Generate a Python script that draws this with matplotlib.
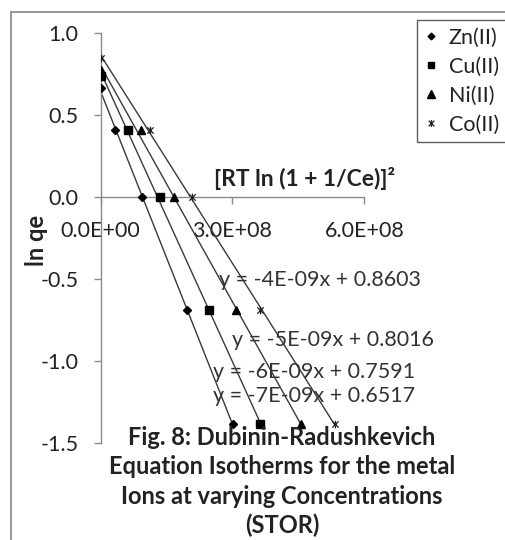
import matplotlib
matplotlib.use("Agg")
import matplotlib.pyplot as plt
import numpy as np
from matplotlib.path import Path
from matplotlib.patches import Rectangle
from matplotlib.lines import Line2D

plt.rcParams['font.family'] = ['Lato', 'DejaVu Sans']

# Dubinin-Radushkevich data: x = [RT ln(1 + 1/Ce)]^2, y = ln qe
series_names = ["Zn(II)", "Cu(II)", "Ni(II)", "Co(II)"]
zn_x = [0.0, 0.33e8, 0.955e8, 1.965e8, 3.01e8]
zn_y = [0.660, 0.405, 0.0, -0.693, -1.386]
cu_x = [0.0, 0.616e8, 1.354e8, 2.463e8, 3.627e8]
cu_y = [0.736, 0.405, 0.0, -0.693, -1.386]
ni_x = [0.0, 0.910e8, 1.664e8, 3.084e8, 4.555e8]
ni_y = [0.770, 0.405, 0.0, -0.693, -1.386]
co_x = [0.0, 1.137e8, 2.078e8, 3.627e8, 5.325e8]
co_y = [0.844, 0.405, 0.0, -0.693, -1.386]

equations = ["y = -7E-09x + 0.6517", "y = -6E-09x + 0.7591",
             "y = -5E-09x + 0.8016", "y = -4E-09x + 0.8603"]

x_ticks = [0.0, 3.0e8, 6.0e8]
x_tick_labels = ["0.0E+00", "3.0E+08", "6.0E+08"]
y_ticks = [-1.5, -1.0, -0.5, 0.0, 0.5, 1.0]

caption_lines = ["Fig. 8: Dubinin-Radushkevich",
                 "Equation Isotherms for the metal",
                 "Ions at varying Concentrations",
                 "(STOR)"]

# star marker: an "x" with a vertical stroke
star = Path([(-1, -1), (1, 1), (-1, 1), (1, -1), (0, -1.2), (0, 1.2)],
            [Path.MOVETO, Path.LINETO, Path.MOVETO, Path.LINETO,
             Path.MOVETO, Path.LINETO])

markers = ['D', 's', '^', star]
msizes = [4.0, 5.5, 6.0, 5.5]
xs = [zn_x, cu_x, ni_x, co_x]
ys = [zn_y, cu_y, ni_y, co_y]

W, H = 505, 540
fig = plt.figure(figsize=(W / 100, H / 100), dpi=100)

def fx(px):
    return px / W

def fy(py):
    return 1 - py / H

ax = fig.add_axes([fx(100.5), fy(442.7), (364.3 - 100.5) / W, 410 / H])
ax.set_xlim(0, 6.0e8)
ax.set_ylim(-1.5, 1.0)

line_col = '#3a3a3a'
handles = []
for x, y, m, ms, name in zip(xs, ys, markers, msizes, series_names):
    x = np.asarray(x)
    y = np.asarray(y)
    slope, icpt = np.polyfit(x, y, 1)
    xl = np.array([x.min(), x.max()])
    ax.plot(xl, slope * xl + icpt, color=line_col, lw=1.0, zorder=2)
    if m is star:
        ax.plot(x, y, linestyle='none', marker=m, ms=ms, mec='#202020',
                mew=0.9, zorder=3)
        h = Line2D([], [], linestyle='none', marker=m, ms=ms * 0.9,
                   mec='#202020', mew=0.9)
    else:
        ax.plot(x, y, linestyle='none', marker=m, ms=ms, color='black',
                mec='black', zorder=3)
        h = Line2D([], [], linestyle='none', marker=m, ms=ms * 0.85,
                   color='black')
    handles.append(h)

# axes styling: crossing axes at the origin
axis_col = '#8a8a8a'
for s in ['top', 'right']:
    ax.spines[s].set_visible(False)
ax.spines['left'].set_position(('data', 0))
ax.spines['bottom'].set_position(('data', 0))
ax.spines['left'].set_color(axis_col)
ax.spines['bottom'].set_color(axis_col)
ax.spines['left'].set_linewidth(1.0)
ax.spines['bottom'].set_linewidth(1.0)
ax.patch.set_visible(False)

ax.set_xticks(x_ticks)
ax.set_xticklabels(x_tick_labels)
ax.set_yticks(y_ticks)
ax.set_yticklabels([f"{v:.1f}" for v in y_ticks])
ax.tick_params(axis='both', colors=axis_col, labelcolor='#222222',
               labelsize=15.5, length=5, width=1.0, direction='out')
ax.tick_params(axis='y', pad=11)
ax.tick_params(axis='x', pad=12.5)

# axis titles
fig.text(fx(305), fy(178), "[RT ln (1 + 1/Ce)]\u00b2", ha='center',
         va='center', fontsize=16.5, fontweight='bold', color='#222222')
fig.text(fx(36), fy(240), "ln qe", ha='center', va='center', rotation=90,
         fontsize=17, fontweight='bold', color='#222222')

# trendline equations
eq_pos = [(213, 396), (213, 371.7), (231.7, 340), (219, 280)]
for txt, (px, py) in zip(equations, eq_pos):
    fig.text(fx(px), fy(py), txt, ha='left', va='center', fontsize=15.5,
             color='#333333')

# caption, one line at a time
cap_y = [437.7, 466.5, 496.7, 525]
for txt, py in zip(caption_lines, cap_y):
    fig.text(fx(282), fy(py), txt, ha='center', va='center',
             fontsize=17, fontweight='bold', color='#222222')

leg = fig.legend(handles, series_names, loc='upper left',
                 bbox_to_anchor=(fx(417.3), fy(20)), frameon=True,
                 fancybox=False, shadow=False, fontsize=15.5,
                 handlelength=0.6, handletextpad=0.5, labelspacing=0.42,
                 borderpad=0.35, borderaxespad=0)
leg.get_frame().set_edgecolor('#333333')
leg.get_frame().set_linewidth(1.0)
for t in leg.get_texts():
    t.set_color('#222222')

# outer chart border
fig.patches.append(Rectangle((fx(11), -0.1), 1.2, fy(12) + 0.1,
                             transform=fig.transFigure, fill=False,
                             edgecolor='#999999', lw=1.5, zorder=0))

fig.savefig("out.png", dpi=100)
